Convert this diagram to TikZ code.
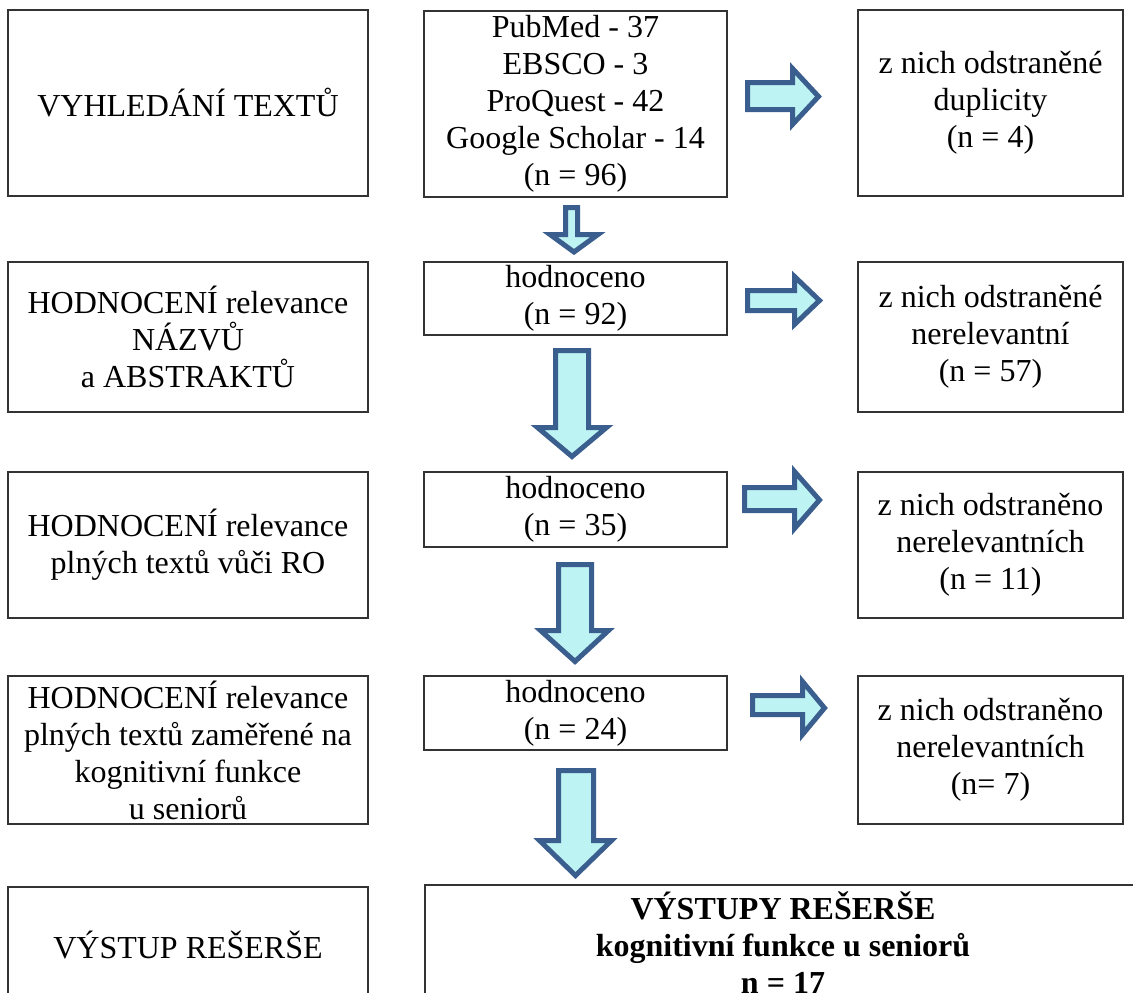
\documentclass[tikz,border=0pt]{standalone}
\usepackage{fontspec}
\setmainfont{Liberation Serif}
\definecolor{arrowline}{RGB}{58,94,141}
\definecolor{arrowfill}{RGB}{189,243,243}
\begin{document}
\begin{tikzpicture}[x=1pt, y=-1pt,%
% common options for the boxes:
box/.style = {draw=black!80, line width=1.5pt, align=center, inner sep=0,
            font=\fontsize{32}{37}\selectfont},
leftbox/.style = {box, minimum width=360pt},
midbox/.style = {box, minimum width=303pt},
rightbox/.style = {box, minimum width=265pt},
% common options for the block arrows:
blockarrow/.style = {draw=arrowline, fill=arrowfill, line width=5pt, line join=miter}]
\useasboundingbox (0,0) rectangle (1133,993);
\clip (0,0) rectangle (1133,993);
% left column
\node[leftbox, minimum height=186pt] (L1) at (188,103) {VYHLEDÁNÍ TEXTŮ};
\node[leftbox, minimum height=150pt] (L2) at (188,337) {HODNOCENÍ relevance\\NÁZVŮ\\a ABSTRAKTŮ};
\node[leftbox, minimum height=146pt] (L3) at (188,545) {HODNOCENÍ relevance\\plných textů vůči RO};
\node[leftbox, minimum height=148pt] (L4) at (188,750) {HODNOCENÍ relevance\\plných textů zaměřené na\\kognitivní funkce\\u seniorů};
\node[leftbox, minimum height=116pt, anchor=north] (L5) at (188,886) {VÝSTUP REŠERŠE};
% middle column
\node[midbox, minimum height=186pt] (M1) at (575.5,104) {PubMed - 37\\EBSCO - 3\\ProQuest - 42\\Google Scholar - 14\\(n = 96)};
\node[midbox, minimum height=73pt] (M2) at (575.5,298.5) {hodnoceno\\(n = 92)};
\node[midbox, minimum height=75pt] (M3) at (575.5,509.5) {hodnoceno\\(n = 35)};
\node[midbox, minimum height=74pt] (M4) at (575.5,713) {hodnoceno\\(n = 24)};
\node[box, minimum width=716pt, minimum height=116pt, anchor=north] (M5) at (783,884)
  {\bfseries VÝSTUPY REŠERŠE\\\bfseries kognitivní funkce u seniorů\\\bfseries n = 17};
% right column
\node[rightbox, minimum height=186pt] (R1) at (990.5,103) {z nich odstraněné\\duplicity\\(n = 4)};
\node[rightbox, minimum height=150pt] (R2) at (990.5,337) {z nich odstraněné\\nerelevantní\\(n = 57)};
\node[rightbox, minimum height=146pt] (R3) at (990.5,545) {z nich odstraněno\\nerelevantních\\(n = 11)};
\node[rightbox, minimum height=148pt] (R4) at (990.5,750) {z nich odstraněno\\nerelevantních\\(n= 7)};
% down arrows
\draw[blockarrow] (565.5,207.5) -- (577.5,207.5) -- (577.5,234.5) -- (598,234.5)
  -- (574,252) -- (550,234.5) -- (565.5,234.5) -- cycle;
\draw[blockarrow] (555.5,350.5) -- (588.5,350.5) -- (588.5,427.5) -- (606.5,427.5)
  -- (572,456.5) -- (537.5,427.5) -- (555.5,427.5) -- cycle;
\draw[blockarrow] (558.5,564.5) -- (591.5,564.5) -- (591.5,630.5) -- (608.5,630.5)
  -- (575,661.5) -- (540.5,630.5) -- (558.5,630.5) -- cycle;
\draw[blockarrow] (558.5,770.5) -- (593.5,770.5) -- (593.5,840.5) -- (611.5,840.5)
  -- (575.5,875.5) -- (539.5,840.5) -- (558.5,840.5) -- cycle;
% right arrows
\draw[blockarrow] (747.5,82.5) -- (792.5,82.5) -- (792.5,68.5) -- (818.5,96.5)
  -- (792.5,124.5) -- (792.5,109.5) -- (747.5,109.5) -- cycle;
\draw[blockarrow] (747.5,290.5) -- (794.5,290.5) -- (794.5,276.5) -- (819.5,300.5)
  -- (794.5,324.5) -- (794.5,310.5) -- (747.5,310.5) -- cycle;
\draw[blockarrow] (744.5,487.5) -- (794.5,487.5) -- (794.5,471.5) -- (819.5,500)
  -- (794.5,528.5) -- (794.5,510.5) -- (744.5,510.5) -- cycle;
\draw[blockarrow] (752.5,695.5) -- (802.5,695.5) -- (802.5,681.5) -- (824.5,708)
  -- (802.5,734.5) -- (802.5,714.5) -- (752.5,714.5) -- cycle;
\end{tikzpicture}
\end{document}
